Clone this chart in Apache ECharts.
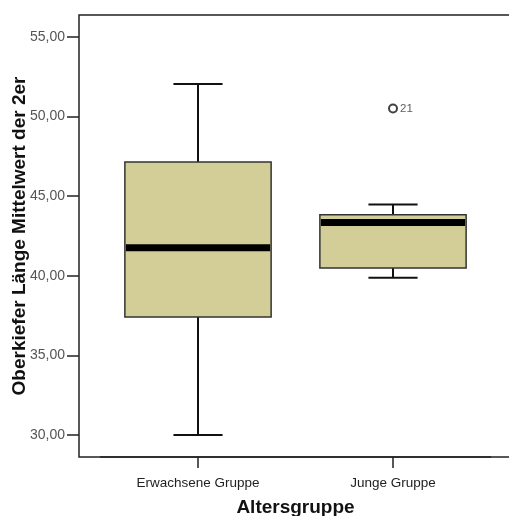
<!DOCTYPE html>
<html><head><meta charset="utf-8">
<script src="https://cdn.jsdelivr.net/npm/echarts@6/dist/echarts.min.js"></script>
<style>html,body{margin:0;padding:0;background:#fff}#c{width:509px;height:516px}</style>
</head><body><div id="c"></div>
<script>
// Data
const categories = ['Erwachsene Gruppe', 'Junge Gruppe'];
const whiskerLow = [30.0, 39.88];
const q1 = [37.42, 40.49];
const median = [41.76, 43.35];
const q3 = [47.14, 43.83];
const whiskerHigh = [52.05, 44.48];
const outliers = [[1, 50.51, '21']]; // [category index, value, case label]
const yTicks = [30, 35, 40, 45, 50, 55];
const yTitle = 'Oberkiefer Länge Mittelwert der 2er';
const xTitle = 'Altersgruppe';

const boxData = categories.map((c, i) => [i, whiskerLow[i], q1[i], median[i], q3[i], whiskerHigh[i]]);
const FONT = '"Liberation Sans", Arial, sans-serif';
const yMin = 28.62, yMax = 56.38;

function renderBox(params, api) {
  const x = api.value(0);
  const lo = api.coord([x, api.value(1)]);
  const b1 = api.coord([x, api.value(2)]);
  const md = api.coord([x, api.value(3)]);
  const b3 = api.coord([x, api.value(4)]);
  const hi = api.coord([x, api.value(5)]);
  const band = api.size([1, 0])[0];
  const half = band * 0.375;
  const cap = band * 0.126;
  const cx = lo[0];
  const lineStyle = { stroke: '#111', lineWidth: 2 };
  return {
    type: 'group',
    children: [
      { type: 'line', shape: { x1: cx, y1: hi[1], x2: cx, y2: b3[1] }, style: lineStyle },
      { type: 'line', shape: { x1: cx, y1: b1[1], x2: cx, y2: lo[1] }, style: lineStyle },
      { type: 'line', shape: { x1: cx - cap, y1: hi[1], x2: cx + cap, y2: hi[1] }, style: lineStyle },
      { type: 'line', shape: { x1: cx - cap, y1: lo[1], x2: cx + cap, y2: lo[1] }, style: lineStyle },
      { type: 'rect', shape: { x: cx - half, y: b3[1], width: half * 2, height: b1[1] - b3[1] },
        style: { fill: '#D3CE98', stroke: '#333', lineWidth: 1.5 } },
      { type: 'line', shape: { x1: cx - half + 1, y1: md[1], x2: cx + half - 1, y2: md[1] },
        style: { stroke: '#000', lineWidth: 7 } }
    ]
  };
}

const chart = echarts.init(document.getElementById('c'), null, { renderer: 'canvas' });
chart.setOption({
  animation: false,
  backgroundColor: '#fff',
  grid: [
    { left: 79, top: 15, right: -3, bottom: 59, outerBoundsMode: 'none', containLabel: false,
      show: true, borderColor: '#222', borderWidth: 1.5, backgroundColor: 'transparent' },
    { left: 100.5, top: 15, right: 18.5, bottom: 59, outerBoundsMode: 'none', containLabel: false }
  ],
  xAxis: [
    { gridIndex: 0, type: 'value', min: 0, max: 1, show: true,
      axisLine: { show: false }, axisTick: { show: false }, axisLabel: { show: false }, splitLine: { show: false },
      name: xTitle, nameLocation: 'middle', nameGap: 41, nameMoveOverlap: false,
      nameTextStyle: { fontFamily: FONT, fontSize: 19, fontWeight: 'bold', color: '#111' } },
    { gridIndex: 1, type: 'category', data: categories, boundaryGap: true,
      axisLine: { show: true, lineStyle: { color: '#222', width: 1.5 } },
      axisTick: { show: true, alignWithLabel: true, length: 11, lineStyle: { color: '#222', width: 1.5 } },
      axisLabel: { margin: 19, fontFamily: FONT, fontSize: 13.5, color: '#222' },
      splitLine: { show: false } }
  ],
  yAxis: [
    { gridIndex: 0, type: 'value', min: yMin, max: yMax,
      axisLine: { show: false },
      axisTick: { show: true, length: 12, customValues: yTicks, lineStyle: { color: '#222', width: 1.5 } },
      axisLabel: { customValues: yTicks, margin: 14, fontFamily: FONT, fontSize: 14, color: '#555',
        formatter: v => v.toFixed(2).replace('.', ',') },
      splitLine: { show: false },
      name: yTitle, nameLocation: 'middle', nameGap: 50, nameMoveOverlap: false,
      nameTextStyle: { fontFamily: FONT, fontSize: 19, fontWeight: 'bold', color: '#111' } },
    { gridIndex: 1, type: 'value', min: yMin, max: yMax, show: false }
  ],
  series: [
    { type: 'custom', xAxisIndex: 1, yAxisIndex: 1, data: boxData,
      encode: { x: 0, y: [1, 2, 3, 4, 5] }, renderItem: renderBox, silent: true },
    { type: 'scatter', xAxisIndex: 1, yAxisIndex: 1,
      data: outliers.map(o => ({ value: [o[0], o[1]], label: { formatter: o[2] } })),
      symbol: 'circle', symbolSize: 8,
      itemStyle: { color: '#fff', borderColor: '#111', borderWidth: 2 },
      label: { show: true, position: 'right', distance: 2, fontFamily: FONT, fontSize: 11.5, color: '#333' } }
  ]
});
</script></body></html>
